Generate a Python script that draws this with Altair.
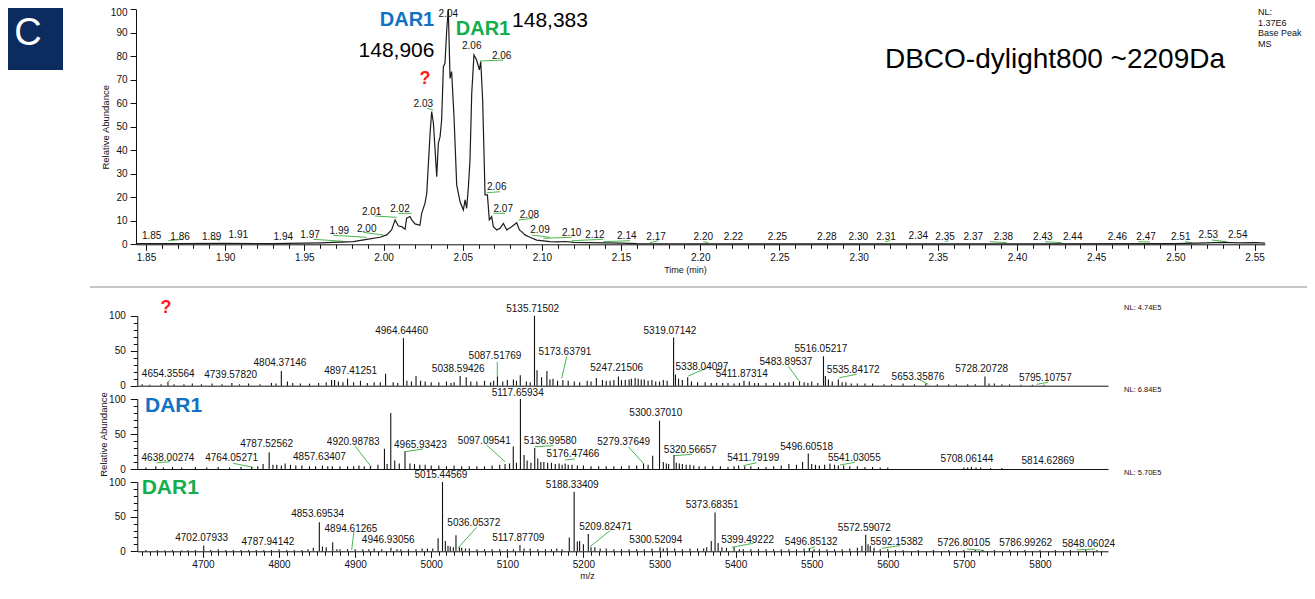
import altair as alt
import pandas as pd

FONT = "Liberation Sans"
BLUE = "#1072C4"
GREEN = "#12AE4B"
RED = "#FF1A1A"
LEADER = "#49B64D"
INK = "#111111"

# ---------------- chromatogram (time in min, relative abundance) ----------------
chrom_points = [
    (1.8437, 0.3), (1.87, 0.3), (1.90, 0.4), (1.93, 0.3), (1.95, 0.5), (1.96, 0.6),
    (1.9683, 0.8), (1.9809, 1.1), (1.9894, 2.1), (1.9978, 3.0), (2.0020, 4.0),
    (2.0051, 6.1), (2.0073, 10.4), (2.0094, 7.8), (2.0115, 7.5), (2.0136, 6.4),
    (2.0146, 11.1), (2.0167, 11.8), (2.0178, 10.4), (2.0199, 8.7), (2.0230, 8.1),
    (2.0241, 13.2), (2.0262, 17.5), (2.0273, 21.7), (2.0294, 47.2), (2.0304, 56.5),
    (2.0315, 51.5), (2.0336, 28.8), (2.0346, 43.0), (2.0357, 45.8), (2.0367, 52.9),
    (2.0378, 75.6), (2.0388, 77.0), (2.0399, 91.2), (2.0409, 100.0), (2.0420, 70.6),
    (2.0430, 73.5), (2.0445, 54.3), (2.0462, 25.3), (2.0483, 18.2), (2.0504, 14.6),
    (2.0515, 18.9), (2.0525, 15.3), (2.0536, 24.5), (2.0546, 35.9), (2.0557, 64.3),
    (2.0571, 80.6), (2.0588, 78.4), (2.0605, 74.2), (2.0614, 77.7), (2.0626, 61.4),
    (2.0641, 21.0), (2.0656, 21.0), (2.0668, 10.4), (2.0683, 11.8), (2.0693, 7.5),
    (2.0715, 6.1), (2.0736, 6.8), (2.0757, 8.9), (2.0778, 6.1), (2.0809, 7.5),
    (2.0841, 9.2), (2.0858, 6.1), (2.0872, 5.4), (2.0893, 4.0), (2.0925, 3.0),
    (2.0967, 1.8), (2.1051, 1.1), (2.11, 1.0), (2.115, 1.2), (2.12, 0.8), (2.13, 0.7),
    (2.14, 0.6), (2.15, 0.5), (2.16, 0.3), (2.20, 0.2), (2.30, 0.2), (2.40, 0.2),
    (2.50, 0.3), (2.52, 0.6), (2.53, 0.8), (2.54, 0.6), (2.55, 0.7), (2.5566, 0.5),
]

chrom_labels = [
    ("1.85", 1.8536, 3.5), ("1.86", 1.8715, 3.2), ("1.89", 1.8915, 3.2), ("1.91", 1.9083, 3.8),
    ("1.94", 1.9367, 3.2), ("1.97", 1.9536, 3.8), ("1.99", 1.9721, 5.7), ("2.00", 1.9894, 6.4),
    ("2.01", 1.9925, 13.9), ("2.02", 2.0104, 14.9), ("2.03", 2.0251, 59.7), ("2.04", 2.0409, 98.0),
    ("2.06", 2.0557, 84.4), ("2.06", 2.0746, 80.3), ("2.06", 2.0715, 24.3), ("2.07", 2.0756, 15.0),
    ("2.08", 2.0921, 12.5), ("2.09", 2.0988, 6.1), ("2.10", 2.1188, 4.7), ("2.12", 2.1335, 4.0),
    ("2.14", 2.1536, 3.5), ("2.17", 2.1721, 3.0), ("2.20", 2.2019, 3.0), ("2.22", 2.2209, 3.0),
    ("2.25", 2.2487, 3.0), ("2.28", 2.2799, 3.0), ("2.30", 2.2998, 3.0), ("2.31", 2.3173, 3.0),
    ("2.34", 2.3377, 3.5), ("2.35", 2.3546, 3.0), ("2.37", 2.3724, 3.0), ("2.38", 2.3914, 3.0),
    ("2.43", 2.4163, 3.0), ("2.44", 2.4352, 3.0), ("2.46", 2.4634, 3.0), ("2.47", 2.4815, 3.0),
    ("2.51", 2.5034, 3.0), ("2.53", 2.5208, 4.0), ("2.54", 2.5394, 4.0),
]

chrom_leaders = [
    (1.8641, 1.53, 1.8736, 2.13), (1.8915, 2.26, 1.8967, 1.83), (1.9557, 2.13, 1.9746, 1.28),
    (1.9683, 3.83, 1.9894, 2.98), (1.9872, 5.11, 1.9999, 3.96), (1.9946, 12.04, 2.0083, 11.49),
    (2.0093, 13.19, 2.0178, 13.19), (2.0273, 57.87, 2.0314, 57.15), (2.0609, 78.0, 2.0756, 78.4),
    (2.0652, 21.96, 2.0736, 22.38), (2.0693, 13.19, 2.0767, 13.19), (2.0851, 10.34, 2.0946, 11.06),
    (2.0936, 3.96, 2.1051, 2.98), (2.1009, 2.55, 2.1188, 2.98), (2.1188, 1.53, 2.1388, 2.13),
    (2.1388, 1.11, 2.1557, 1.53), (2.1683, 0.68, 2.1735, 1.53), (2.2019, 1.11, 2.2051, 0.68),
    (2.3167, 1.11, 2.3199, 1.53), (2.3546, 1.11, 2.3567, 1.53), (2.3830, 1.11, 2.3935, 0.68),
    (2.4177, 1.11, 2.4283, 0.68), (2.4766, 1.11, 2.4840, 0.98), (2.5061, 1.11, 2.5104, 0.68),
    (2.5230, 1.83, 2.5325, 1.11),
]

chrom_blue_notes = [("DAR1", 2.0148, 95.4)]
chrom_green_notes = [("DAR1", 2.0628, 91.8)]
chrom_red_notes = [("?", 2.0262, 70.3)]
chrom_mass_notes = [("148,906", 2.0082, 82.3), ("148,383", 2.1051, 94.9)]
chrom_title_notes = [("DBCO-dylight800 ~2209Da", 2.4240, 78.4)]
chrom_nl_notes = [("NL:", 2.5522, 98.7), ("1.37E6", 2.5522, 94.3),
                  ("Base Peak", 2.5522, 89.8), ("MS", 2.5522, 85.4)]

time_major = [round(1.85 + 0.05 * i, 2) for i in range(15)]
time_minor = [round(1.85 + 0.01 * i, 2) for i in range(71) if i % 5]
abund_major_top = list(range(0, 91, 10))
abund_top_end = [100]

# ---------------- deconvoluted spectra (m/z, relative abundance) ----------------
p1_peaks = [
    (4620, 2), (4630, 1.5), (4645, 2), (4654, 5), (4662, 2), (4675, 2), (4686, 3), (4698, 2),
    (4712, 3), (4725, 2), (4738, 4), (4748, 2), (4760, 3), (4775, 2), (4790, 4), (4796, 3),
    (4803, 21), (4811, 6), (4818, 4), (4828, 3), (4840, 3), (4852, 4), (4862, 5), (4869, 8),
    (4873, 8), (4878, 6), (4884, 5), (4890, 10), (4898, 5), (4907, 7), (4916, 4), (4925, 5),
    (4933, 5), (4940, 17), (4950, 5), (4956, 4), (4963.5, 68), (4968, 7), (4974, 6), (4980, 14),
    (4986, 7), (4992, 6), (5000, 5), (5010, 5), (5020, 6), (5026, 4), (5030, 5), (5038, 14),
    (5046, 12), (5052, 6), (5060, 6), (5070, 7), (5078, 5), (5082, 7), (5087, 13), (5094, 6),
    (5100, 8), (5108, 9), (5112, 7), (5117, 15), (5125, 6), (5130, 5), (5135.7, 100), (5139, 22),
    (5145, 12), (5152, 21), (5156, 9), (5160, 10), (5166, 7), (5173, 8), (5180, 7), (5188, 6),
    (5195, 5), (5205, 7), (5210, 6), (5217, 11), (5225, 8), (5230, 7), (5235, 7), (5240, 8),
    (5246, 13), (5250, 8), (5255, 8), (5260, 9), (5263, 10), (5268, 11), (5272, 10), (5276, 9),
    (5280, 9), (5285, 7), (5290, 8), (5295, 6), (5300, 6), (5305, 8), (5310, 7), (5318.5, 69),
    (5321, 16), (5325, 10), (5330, 8), (5337, 12), (5342, 6), (5350, 5), (5360, 5), (5368, 4),
    (5375, 4), (5383, 4), (5390, 4), (5398, 3), (5405, 4), (5411, 7), (5418, 6), (5425, 4),
    (5430, 4), (5440, 4), (5450, 4), (5458, 5), (5465, 4), (5470, 5), (5476, 6), (5484, 6),
    (5490, 5), (5495, 4), (5500, 6), (5508, 4), (5515.5, 42), (5518, 14), (5522, 9), (5527, 6),
    (5535, 9), (5540, 5), (5545, 5), (5552, 3), (5560, 3), (5570, 3), (5580, 3), (5595, 2),
    (5605, 2), (5620, 3), (5635, 2), (5650, 3), (5665, 2), (5680, 2), (5690, 2), (5705, 2),
    (5715, 2), (5727.7, 13), (5733, 3), (5740, 3), (5750, 2), (5760, 2), (5775, 1.5),
    (5790, 1.5), (5805, 1.5),
]
p2_peaks = [
    (4625, 2), (4638, 4), (4648, 2), (4660, 3), (4672, 2), (4690, 3), (4705, 2), (4720, 3),
    (4735, 2), (4750, 3), (4764, 3), (4772, 4), (4779, 7), (4787, 24), (4792, 6), (4797, 6),
    (4803, 5), (4808, 8), (4815, 6), (4822, 5), (4830, 5), (4840, 4), (4848, 4), (4857, 5),
    (4864, 4), (4870, 4), (4880, 4), (4890, 4), (4898, 4), (4905, 5), (4912, 4), (4920, 4),
    (4930, 6), (4938.5, 29), (4942, 7), (4946.8, 80), (4952, 12), (4958, 8), (4965.5, 25),
    (4972, 8), (4978, 7), (4985, 6), (4992, 6), (5000, 5), (5010, 5), (5020, 4), (5030, 5),
    (5040, 4), (5050, 4), (5060, 4), (5070, 4), (5080, 5), (5090, 6), (5097, 7), (5103, 8),
    (5107.8, 32), (5112, 9), (5117.2, 100), (5122, 20), (5126, 12), (5131, 9), (5136, 30),
    (5140, 15), (5144, 10), (5148, 10), (5153, 9), (5158, 9), (5163, 7), (5168, 8), (5172, 6),
    (5176, 8), (5180, 6), (5185, 6), (5192, 5), (5200, 5), (5210, 4), (5220, 4), (5230, 4),
    (5240, 4), (5250, 4), (5260, 5), (5270, 5), (5279, 8), (5285, 6), (5291, 19), (5300, 69),
    (5305, 10), (5309, 8), (5312, 7), (5319, 20), (5322, 9), (5326, 8), (5330, 7), (5335, 6),
    (5340, 6), (5345, 5), (5352, 4), (5360, 4), (5370, 4), (5380, 4), (5390, 3), (5398, 4),
    (5404, 5), (5412, 4), (5420, 4), (5430, 3), (5440, 3), (5450, 4), (5460, 5), (5470, 7),
    (5480, 6), (5488, 10), (5495.5, 22), (5500, 7), (5505, 6), (5510, 5), (5517, 6), (5524, 8),
    (5530, 6), (5535, 5), (5542, 5), (5550, 4), (5560, 4), (5570, 3), (5580, 3), (5590, 2),
    (5600, 2), (5700, 2), (5705, 2), (5710, 3), (5716, 2), (5722, 2), (5735, 1.5), (5750, 1.5),
]
p3_peaks = [
    (4625, 2), (4640, 2), (4650, 1.5), (4660, 2), (4672, 1.5), (4680, 2), (4690, 2), (4701, 8.5),
    (4710, 2), (4720, 3), (4730, 2), (4740, 2), (4750, 2), (4760, 2), (4770, 2), (4780, 2),
    (4790, 2), (4800, 3), (4810, 2), (4820, 2), (4830, 2), (4838, 3), (4845, 5), (4852.9, 42),
    (4857, 7), (4862, 6), (4870.5, 13), (4876, 3), (4880, 3), (4890, 3), (4900, 3), (4910, 3),
    (4918, 3), (4925, 4), (4935, 3), (4947, 5), (4955, 3), (4960, 3), (4970, 3), (4980, 3),
    (4988, 4), (4995, 4), (5002, 4), (5009, 19), (5014.8, 100), (5018.5, 15), (5022, 8),
    (5025, 7), (5029, 6), (5032.5, 23), (5037, 6), (5040, 5), (5045, 4), (5050, 4), (5060, 3),
    (5070, 3), (5080, 3), (5090, 3), (5100, 3), (5108, 3), (5116.6, 9), (5122, 4), (5130, 4),
    (5140, 3), (5150, 3), (5158, 3), (5165, 4), (5172, 3), (5181.4, 20), (5187.8, 86),
    (5192, 14), (5195, 15), (5200, 10), (5206.4, 25), (5210, 6), (5215, 6), (5222, 4),
    (5230, 4), (5240, 3), (5250, 3), (5260, 3), (5270, 3), (5280, 3), (5290, 4), (5300.6, 6),
    (5305, 4), (5310, 5), (5320, 4), (5330, 3), (5340, 4), (5350, 4), (5358, 4), (5362, 6),
    (5368, 15), (5373, 56), (5377, 12), (5382, 6), (5388, 5), (5398, 6), (5405, 3), (5410, 3),
    (5420, 3), (5430, 3), (5440, 3), (5450, 3), (5460, 3), (5470, 3), (5480, 3), (5490, 4),
    (5497, 4), (5503, 3), (5510, 3), (5520, 3), (5530, 3), (5540, 3), (5550, 4), (5560, 5),
    (5566, 8), (5571, 24), (5574, 10), (5577, 8), (5582, 5), (5590, 3), (5600, 3), (5610, 2),
    (5620, 2), (5640, 2), (5660, 2), (5680, 2), (5700, 2), (5715, 2), (5725, 2), (5740, 2),
    (5760, 2), (5780, 2), (5800, 2), (5820, 2), (5840, 2), (5860, 2), (5875, 2),
]

p1_labels = [
    ("4654.35564", 4654.4, 16.3), ("4739.57820", 4736.4, 14.9), ("4804.37146", 4801.2, 32.0),
    ("4897.41251", 4894.1, 21.0), ("4964.64460", 4961.1, 78.6), ("5038.59426", 5035.5, 23.4),
    ("5087.51769", 5083.8, 42.4), ("5135.71502", 5133.3, 109.1), ("5173.63791", 5175.8, 47.7),
    ("5247.21506", 5243.7, 24.9), ("5319.07142", 5313.7, 78.6), ("5338.04097", 5355.8, 26.7),
    ("5411.87314", 5408.0, 16.7), ("5483.89537", 5466.2, 34.3), ("5516.05217", 5512.2, 52.0),
    ("5535.84172", 5554.6, 22.4), ("5653.35876", 5639.7, 12.9), ("5728.20728", 5723.4, 23.9),
    ("5795.10757", 5807.0, 10.6),
]
p2_labels = [
    ("4638.00274", 4654.0, 15.3), ("4764.05271", 4737.7, 15.3), ("4787.52562", 4783.7, 35.3),
    ("4857.63407", 4853.1, 16.7), ("4920.98783", 4897.5, 39.0), ("4965.93423", 4985.8, 34.3),
    ("5097.09541", 5069.7, 40.4), ("5117.65934", 5113.6, 109.0), ("5136.99580", 5156.4, 40.4),
    ("5176.47466", 5186.3, 21.4), ("5279.37649", 5252.9, 39.0), ("5300.37010", 5295.1, 79.6),
    ("5320.56657", 5340.4, 27.1), ("5411.79199", 5423.2, 16.1), ("5496.60518", 5493.4, 31.9),
    ("5541.03055", 5556.0, 16.1), ("5708.06144", 5704.1, 14.3), ("5814.62869", 5810.5, 11.4),
]
p3_labels = [
    ("4702.07933", 4698.3, 18.8), ("4787.94142", 4785.4, 13.9), ("4853.69534", 4850.7, 53.4),
    ("4894.61265", 4894.5, 32.2), ("4946.93056", 4943.5, 16.3), ("5015.44569", 5012.8, 110.1),
    ("5036.05372", 5055.9, 40.4), ("5117.87709", 5114.4, 18.8), ("5188.33409", 5185.3, 95.7),
    ("5209.82471", 5229.2, 35.5), ("5300.52094", 5295.1, 16.3), ("5373.68351", 5369.2, 66.8),
    ("5399.49222", 5415.8, 16.3), ("5496.85132", 5499.4, 13.0), ("5572.59072", 5569.1, 34.1),
    ("5592.15382", 5611.7, 13.9), ("5726.80105", 5699.9, 11.5), ("5786.99262", 5781.2, 11.5),
    ("5848.06024", 5864.0, 10.1),
]

p1_leaders = [(4653.1, 4.3, 4657.6, 9.1), (5086.8, 34.3, 5086.8, 12.9), (5178.0, 41.4, 5171.4, 10.6),
              (5337.8, 13.9, 5366.3, 27.1), (5469.2, 28.1, 5484.6, 4.9), (5536.2, 11.4, 5559.1, 16.3),
              (5642.3, 8.1, 5653.2, 2.0), (5795.7, 2.0, 5811.0, 4.9)]
p2_leaders = [(4639.2, 9.0, 4656.6, 10.4), (4739.8, 8.1, 4766.1, 2.4), (4899.8, 32.9, 4921.7, 2.4),
              (4965.5, 24.7, 4989.5, 28.6), (5072.8, 34.3, 5096.9, 10.4), (5136.3, 31.9, 5160.4, 33.3),
              (5175.8, 12.9, 5188.9, 14.3), (5259.0, 31.9, 5278.7, 8.1), (5319.4, 19.0, 5342.7, 21.0),
              (5410.1, 4.7, 5427.7, 9.0), (5537.2, 5.7, 5556.9, 9.6)]
p3_leaders = [(4898.4, 28.3, 4895.4, 1.9), (5059.7, 34.6, 5035.5, 5.2), (5234.9, 29.7, 5208.6, 6.6),
              (5394.8, 5.8, 5423.2, 11.5), (5495.5, 3.3, 5504.3, 6.6), (5592.0, 4.3, 5616.1, 8.1),
              (5703.7, 3.3, 5725.5, 1.4), (5848.2, 1.9, 5872.3, 3.3)]

p1_red_notes = [("?", 4651.4, 111.0)]
p2_blue_notes = [("DAR1", 4623.8, 90.4)]
p3_green_notes = [("DAR1", 4619.4, 90.9)]
p1_nl = [("NL: 4.74E5", 5910.4, 111.0)]
p2_nl = [("NL: 6.84E5", 5910.4, 112.9)]
p3_nl = [("NL: 5.70E5", 5910.4, 113.0)]

mz_major = list(range(4700, 5801, 100))
mz_minor = [v for v in range(4620, 5890, 10) if v % 100]
spec_major = [0, 50, 100]
spec_minor = [10, 20, 30, 40, 60, 70, 80, 90]

# ---------------- scales ----------------
xs_top = alt.Scale(domain=[1.8437, 2.5566], range=[128, 1257], nice=False, zero=False)
ys_top = alt.Scale(domain=[0, 100], range=[236.3, 1.3], nice=False, zero=False)
xs_spec = alt.Scale(domain=[4613.7, 5889.4], range=[129.3, 1100], nice=False, zero=False)
ys_p1 = alt.Scale(domain=[0, 100], range=[377.7, 307.7], nice=False, zero=False)
ys_p2 = alt.Scale(domain=[0, 100], range=[461.0, 391.0], nice=False, zero=False)
ys_p3 = alt.Scale(domain=[0, 100], range=[543.3, 474.0], nice=False, zero=False)

H = 583


def frame(rows, cols):
    return pd.DataFrame(rows, columns=cols)


def texts(rows, xs, ys, **kw):
    base = dict(font=FONT, fontSize=10, color=INK, align="center", baseline="middle")
    base.update(kw)
    return alt.Chart(frame(rows, ["label", "px", "py"])).mark_text(**base).encode(
        x=alt.X("px:Q", scale=xs, axis=None),
        y=alt.Y("py:Q", scale=ys, axis=None),
        text="label:N",
    )


def leaders(rows, xs, ys):
    return alt.Chart(frame(rows, ["x1", "y1", "x2", "y2"])).mark_rule(
        color=LEADER, strokeWidth=1
    ).encode(
        x=alt.X("x1:Q", scale=xs, axis=None), x2="x2:Q",
        y=alt.Y("y1:Q", scale=ys, axis=None), y2="y2:Q",
    )


# ---------------- chromatogram panel ----------------
chrom_df = frame(chrom_points, ["t", "a"])

top_line = alt.Chart(chrom_df).mark_line(color="#1c1c1c", strokeWidth=1.2).encode(
    x=alt.X("t:Q", scale=xs_top, axis=alt.Axis(
        orient="bottom", offset=236.3 - H, values=time_major, format=".2f",
        tickSize=6, labelPadding=2, title="Time (min)", titleX=677, titleY=21,
        titleBaseline="top", titleFontSize=9)),
    y=alt.Y("a:Q", scale=ys_top, axis=alt.Axis(
        orient="left", offset=-128, values=abund_major_top, tickSize=6, labelPadding=3,
        title="Relative Abundance", titleX=-26, titleFontSize=9.5)),
)
top_minor = alt.Chart(chrom_df).mark_line(opacity=0).encode(
    x=alt.X("t:Q", scale=xs_top, axis=alt.Axis(
        orient="bottom", offset=236.3 - H, values=time_minor, tickSize=4,
        labels=False, domain=False, title=None)),
    y=alt.Y("a:Q", scale=ys_top, axis=alt.Axis(
        orient="left", offset=-128, values=abund_top_end, tickSize=6, labelPadding=3,
        labelOffset=3, domain=False, title=None)),
)

top_parts = [
    leaders(chrom_leaders, xs_top, ys_top),
    top_line,
    top_minor,
    texts(chrom_labels, xs_top, ys_top, fontSize=10),
    texts(chrom_blue_notes, xs_top, ys_top, fontSize=20, fontWeight="bold", color=BLUE),
    texts(chrom_green_notes, xs_top, ys_top, fontSize=20, fontWeight="bold", color=GREEN),
    texts(chrom_red_notes, xs_top, ys_top, fontSize=18, fontWeight="bold", color=RED),
    texts(chrom_mass_notes, xs_top, ys_top, fontSize=21, color="#000000"),
    texts(chrom_title_notes, xs_top, ys_top, fontSize=28, color="#000000"),
    texts(chrom_nl_notes, xs_top, ys_top, fontSize=9, align="left"),
]


# ---------------- spectrum panels ----------------
def spectrum_parts(peaks, labels, leads, ys, base_px, full_x, y_title, extras):
    df = frame(peaks, ["mz", "inten"])
    if full_x:
        x_axis = alt.Axis(orient="bottom", offset=base_px - H, values=mz_major, format="d",
                          tickSize=6, labelPadding=2, title="m/z", titleX=579, titleY=20,
                          titleBaseline="top", titleFontSize=9)
    else:
        x_axis = alt.Axis(orient="bottom", offset=base_px - H, ticks=False, labels=False,
                          domain=True, title=None)
    y_kw = dict(orient="left", offset=-129.3, values=spec_major, tickSize=7, labelPadding=5)
    if y_title:
        y_kw.update(title=y_title, titleX=-29, titleFontSize=9.5)
    else:
        y_kw.update(title=None)
    sticks = alt.Chart(df).mark_rule(color=INK, strokeWidth=1.1).encode(
        x=alt.X("mz:Q", scale=xs_spec, axis=x_axis),
        y=alt.Y("inten:Q", scale=ys, axis=alt.Axis(**y_kw)),
        y2=alt.Y2Datum(0),
    )
    minor_x = (alt.Axis(orient="bottom", offset=base_px - H, values=mz_minor, tickSize=4,
                        labels=False, domain=False, title=None) if full_x else None)
    minor = alt.Chart(df).mark_point(opacity=0).encode(
        x=alt.X("mz:Q", scale=xs_spec, axis=minor_x),
        y=alt.Y("inten:Q", scale=ys, axis=alt.Axis(
            orient="left", offset=-129.3, values=spec_minor, tickSize=4, labels=False,
            domain=False, title=None)),
    )
    parts = [leaders(leads, xs_spec, ys), sticks, minor, texts(labels, xs_spec, ys, fontSize=10)]
    return parts + extras


p1_parts = spectrum_parts(
    p1_peaks, p1_labels, p1_leaders, ys_p1, 377.7, False, None,
    [texts(p1_red_notes, xs_spec, ys_p1, fontSize=18, fontWeight="bold", color=RED),
     texts(p1_nl, xs_spec, ys_p1, fontSize=7.5, align="left")],
)
p2_parts = spectrum_parts(
    p2_peaks, p2_labels, p2_leaders, ys_p2, 461.0, False, "Relative Abundance",
    [texts(p2_blue_notes, xs_spec, ys_p2, fontSize=21, fontWeight="bold", color=BLUE, align="left"),
     texts(p2_nl, xs_spec, ys_p2, fontSize=7.5, align="left")],
)
p3_parts = spectrum_parts(
    p3_peaks, p3_labels, p3_leaders, ys_p3, 543.3, True, None,
    [texts(p3_green_notes, xs_spec, ys_p3, fontSize=21, fontWeight="bold", color=GREEN, align="left"),
     texts(p3_nl, xs_spec, ys_p3, fontSize=7.5, align="left")],
)

# ---------------- decorations ----------------
one = pd.DataFrame({"k": [0]})
badge = alt.Chart(one).mark_rect(color="#0C2B5E").encode(
    x=alt.value(0), x2=alt.value(55), y=alt.value(0), y2=alt.value(62)
)
badge_text = alt.Chart(one).mark_text(
    text="C", color="white", font=FONT, fontSize=38, align="center", baseline="middle"
).encode(x=alt.value(20), y=alt.value(26))
separator = alt.Chart(one).mark_rule(color="#8c8c8c", strokeWidth=1).encode(
    x=alt.value(82), x2=alt.value(1307), y=alt.value(279)
)

chart = alt.layer(
    badge, badge_text, separator, *top_parts, *p1_parts, *p2_parts, *p3_parts
).resolve_scale(
    x="independent", y="independent"
).resolve_axis(
    x="independent", y="independent"
).properties(
    width=1299, height=H, padding=0, autosize=alt.AutoSizeParams(type="none")
).configure_view(
    stroke=None
).configure_axis(
    labelFont=FONT, titleFont=FONT, labelFontSize=10, labelColor="#111111",
    titleColor="#111111", titleFontWeight="normal", domainColor="#111111",
    tickColor="#111111", grid=False, labelFlush=False, labelOverlap=False,
    labelBound=False, domainWidth=1, tickWidth=1,
)

chart.save("out.html", embed_options={"renderer": "svg", "actions": False})
